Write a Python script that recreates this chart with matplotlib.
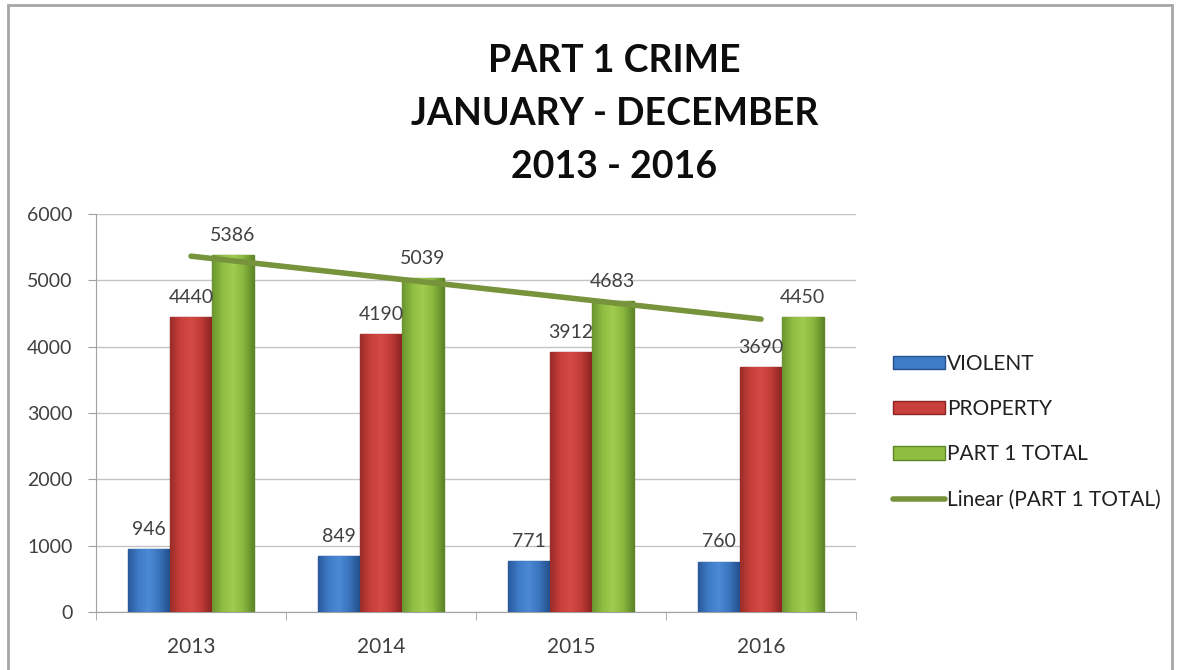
import matplotlib.pyplot as plt
import numpy as np
from matplotlib.patches import Rectangle
from matplotlib.colors import LinearSegmentedColormap

plt.rcParams['font.family'] = ['Lato', 'DejaVu Sans']

years = ['2013', '2014', '2015', '2016']
violent = [946, 849, 771, 760]
prop = [4440, 4190, 3912, 3690]
total = [5386, 5039, 4683, 4450]

fig = plt.figure(figsize=(11.77, 6.70), dpi=100)
ax = fig.add_axes([0.0816, 0.0866, 0.6457, 0.594])

# outer chart border
fig.patches.append(Rectangle((0.007, -0.05), 0.989, 1.042, transform=fig.transFigure,
                             fill=False, edgecolor='#a6a6a6', linewidth=2))

x = np.arange(len(years))
w = 0.22
series = [
    (violent, 'VIOLENT', ['#2a5a9c', '#3f7cc8', '#4c8ad6', '#3a74bd', '#24508c'], '#24508c', -w),
    (prop, 'PROPERTY', ['#9c2c28', '#c83f3b', '#d44a45', '#c03b37', '#8c2522'], '#8c2522', 0),
    (total, 'PART 1 TOTAL', ['#6a9530', '#8fbd42', '#a0cc4e', '#8ab83e', '#5e8628'], '#5e8628', w),
]
grad = np.linspace(0, 1, 64).reshape(1, -1)
for vals, name, cols, edge, off in series:
    cmap = LinearSegmentedColormap.from_list(name, cols)
    bars = ax.bar(x + off, vals, width=w, color=cols[1], edgecolor=edge,
                  linewidth=1, label=name, zorder=3)
    for b, v in zip(bars, vals):
        # shaded fill to mimic the bevelled bars
        im = ax.imshow(grad, cmap=cmap, aspect='auto', zorder=3.5,
                       extent=(b.get_x(), b.get_x() + b.get_width(), 0, v))
        im.set_clip_path(b)
        ax.annotate(str(v), (b.get_x() + b.get_width() / 2, v), xytext=(0, 8),
                    textcoords='offset points', ha='center', va='bottom',
                    fontsize=14, color='#404040', zorder=5)

# linear trend of the totals
k, c = np.polyfit(x, total, 1)
ax.plot([x[0], x[-1]], [c, k * x[-1] + c], color='#77933c',
        linewidth=4, solid_capstyle='round', label='Linear (PART 1 TOTAL)', zorder=4)

ax.set_xlim(-0.5, 3.5)
ax.set_ylim(0, 6000)
ax.set_yticks(range(0, 6001, 1000))
ax.set_xticks(x)
ax.set_xticklabels(years)
ax.set_xticks(np.arange(-0.5, 4, 1), minor=True)
ax.tick_params(axis='x', which='major', length=0, pad=18, labelsize=15, colors='#404040')
ax.tick_params(axis='x', which='minor', length=6, color='#a0a0a0')
ax.tick_params(axis='y', length=6, color='#a0a0a0', labelsize=14, labelcolor='#404040', pad=11)
ax.grid(axis='y', color='#c4c4c4', linewidth=1, zorder=0)
ax.set_axisbelow(True)
for s in ['top', 'right']:
    ax.spines[s].set_visible(False)
for s in ['left', 'bottom']:
    ax.spines[s].set_color('#a0a0a0')

h, l = ax.get_legend_handles_labels()
order = [l.index(n) for n in ['VIOLENT', 'PROPERTY', 'PART 1 TOTAL', 'Linear (PART 1 TOTAL)']]
ax.legend([h[i] for i in order], [l[i] for i in order], loc='center left',
          bbox_to_anchor=(1.049, 0.453), frameon=False, fontsize=15, borderaxespad=0,
          borderpad=0, handlelength=2.5, handleheight=0.6, handletextpad=0.08,
          labelspacing=1.22, labelcolor='#202020')

fig.text(0.522, 0.830, 'PART 1 CRIME\nJANUARY - DECEMBER\n2013 - 2016', ha='center',
         va='center', fontsize=27, fontweight='bold', linespacing=1.67, color='#0d0d0d')

fig.savefig('out.png', dpi=100)
